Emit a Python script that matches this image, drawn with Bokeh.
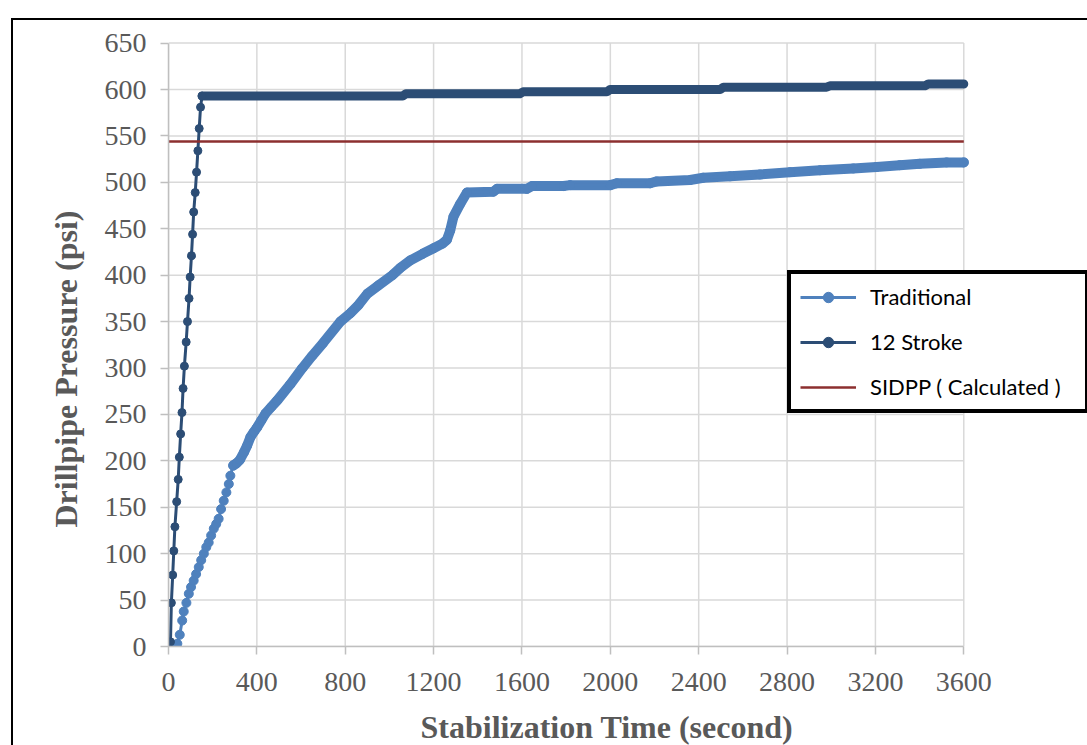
from bokeh.plotting import figure
from bokeh.models import (Range1d, Legend, LegendItem, Title, FixedTicker,
                          InlineStyleSheet)
from bokeh.embed import file_html
from bokeh.resources import INLINE

# ---------------- data ----------------
x_ticks = list(range(0, 3601, 400))
y_ticks = list(range(0, 651, 50))
x_max, y_max = 3600, 650

# 12 Stroke: discrete early points
stroke_t = [9, 13, 19, 24, 29, 37, 44, 49, 55, 61, 66, 72, 80, 86, 93, 98, 104,
            109, 114, 121, 127, 133, 139, 145, 152]
stroke_p = [5, 47, 77, 103, 129, 156, 180, 204, 229, 252, 278, 302, 328, 350, 375,
            398, 421, 444, 468, 489, 511, 534, 558, 581, 593]
# 12 Stroke: dense plateau (step levels)
stroke_plat_t = [152, 1060, 1075, 1590, 1605, 1984, 1999, 2497, 2512, 2979, 2994,
                 3424, 3439, 3600]
stroke_plat_p = [593, 593, 595.5, 595.5, 597.5, 597.5, 600, 600, 602.5, 602.5,
                 604, 604, 606, 606]

# Traditional
trad_t = [12, 18, 25, 32, 40, 51, 62, 69, 81, 92, 102, 114, 125, 137, 148, 160,
          171, 182, 193, 205, 216, 227, 238, 250, 262, 273, 280, 293,
          308, 323, 341, 356, 371, 386, 401, 420, 439, 465, 492, 550, 606, 650,
          700, 778, 823, 860, 900, 950, 1013, 1050, 1095, 1150, 1200, 1240, 1260,
          1275, 1290, 1321, 1351, 1471, 1487, 1622, 1645, 1788, 1818, 2000, 2029,
          2180, 2210, 2361, 2421, 2542, 2677, 2813, 2949, 3100, 3205, 3310, 3401,
          3522, 3600]
trad_p = [0, 0, 0, 1, 3, 12.6, 28, 37.7, 47, 56.8, 64, 71, 78, 85.5, 93, 100,
          107, 112, 119.6, 127, 132, 137.6, 148, 157, 166, 175, 184, 195,
          197.4, 201, 209, 216.5, 225.6, 231, 236, 243.5, 251, 258, 265, 282, 300, 313,
          327, 350, 359, 368, 380, 389, 400, 408, 416, 423, 429, 434, 438,
          448, 463, 477, 489, 490, 493, 493, 496, 496, 497, 497, 499,
          499, 501, 502.5, 505, 506.5, 508.5, 511, 513, 515, 516.5, 518.5, 520,
          521.5, 521.5]
trad_dense_start = 27  # index from which the markers merge into a band

sidpp_t = [0, 3600]
sidpp_p = [544, 544]

labels = ["Traditional", "12 Stroke", "SIDPP ( Calculated )"]

# ---------------- styling ----------------
C_TRAD = "#4f81bd"
C_STROKE = "#2c4d75"
C_SIDPP = "#8c2f2f"
GRID = "#d9d9d9"
AXIS = "#bfbfbf"
TXT = "#595959"
SERIF = "Liberation Serif"

css = InlineStyleSheet(css="""
:host {
  background-color: white;
  background-image: linear-gradient(#000, #000), linear-gradient(#000, #000);
  background-repeat: no-repeat;
  background-size: 2px 800px, 1200px 2px;
  background-position: 11px 18px, 11px 18px;
}
""")

p = figure(width=1087, height=745, x_range=Range1d(0, 4160), y_range=Range1d(0, 695.9),
           output_backend="svg", toolbar_location=None,
           min_border_left=168, min_border_right=0, min_border_top=0,
           min_border_bottom=99, stylesheets=[css])
p.background_fill_alpha = 0
p.border_fill_alpha = 0
p.outline_line_color = None
p.grid.visible = False

for ax, ticks, b in ((p.xaxis, x_ticks, (0, x_max)), (p.yaxis, y_ticks, (0, y_max))):
    ax.ticker = FixedTicker(ticks=ticks)
    ax.bounds = b
    ax.axis_line_color = AXIS
    ax.axis_line_width = 1.5
    ax.major_tick_line_color = AXIS
    ax.major_tick_line_width = 1.5
    ax.major_tick_out = 8
    ax.major_tick_in = 0
    ax.minor_tick_out = 0
    ax.minor_tick_in = 0
    ax.major_label_text_font = SERIF
    ax.major_label_text_font_size = "28px"
    ax.major_label_text_color = TXT
p.xaxis.major_label_standoff = 18
p.yaxis.major_label_standoff = 14

# gridlines limited to the plot area 0..3600 x 0..650
p.segment(x0=x_ticks, y0=0, x1=x_ticks, y1=y_max, line_color=GRID, line_width=1.5)
p.segment(x0=0, y0=y_ticks, x1=x_max, y1=y_ticks, line_color=GRID, line_width=1.5)

# blank spacer between tick labels and the x title
gap = Title(text="\u00a0", text_font_size="10px", standoff=0, text_color="white")
p.add_layout(gap, "below")
xt = Title(text="Stabilization Time (second)", align="left", offset=252,
           text_font=SERIF, text_font_size="32px", text_font_style="bold",
           text_color=TXT, standoff=0)
p.add_layout(xt, "below")
yt = Title(text="Drillpipe  Pressure (psi)", align="left", offset=119,
           text_font=SERIF, text_font_size="32px", text_font_style="bold",
           text_color=TXT, standoff=36)
p.add_layout(yt, "left")

# Traditional
trad_band = p.line(trad_t[trad_dense_start:], trad_p[trad_dense_start:],
                   line_color=C_TRAD, line_width=10, line_cap="round", line_join="round")
trad_line = p.line(trad_t, trad_p, line_color=C_TRAD, line_width=3)
trad_pts = p.scatter(trad_t, trad_p, size=9, marker="circle", fill_color=C_TRAD,
                     line_color=C_TRAD)

# 12 Stroke
stroke_line = p.line(stroke_t, stroke_p, line_color=C_STROKE, line_width=3)
stroke_band = p.line(stroke_plat_t, stroke_plat_p, line_color=C_STROKE, line_width=9,
                     line_cap="round", line_join="round")
stroke_pts = p.scatter(stroke_t, stroke_p, size=8, marker="circle", fill_color=C_STROKE,
                       line_color=C_STROKE)

# SIDPP
sidpp_line = p.line(sidpp_t, sidpp_p, line_color=C_SIDPP, line_width=2.5)

legend = Legend(items=[LegendItem(label=labels[0], renderers=[trad_line, trad_pts]),
                       LegendItem(label=labels[1], renderers=[stroke_line, stroke_pts]),
                       LegendItem(label=labels[2], renderers=[sidpp_line])],
                location=(619, 233), orientation="vertical")
legend.border_line_color = "black"
legend.border_line_width = 4
legend.border_line_alpha = 1
legend.background_fill_color = "white"
legend.background_fill_alpha = 1
legend.label_text_font = "Lato"
legend.label_text_font_size = "22px"
legend.label_text_color = "black"
legend.padding = 9
legend.spacing = 18
legend.label_height = 26
legend.glyph_height = 26
legend.glyph_width = 56
legend.label_standoff = 14
legend.label_width = 206
legend.margin = 0
p.add_layout(legend, "center")

open("out.html", "w").write(file_html(p, INLINE))
